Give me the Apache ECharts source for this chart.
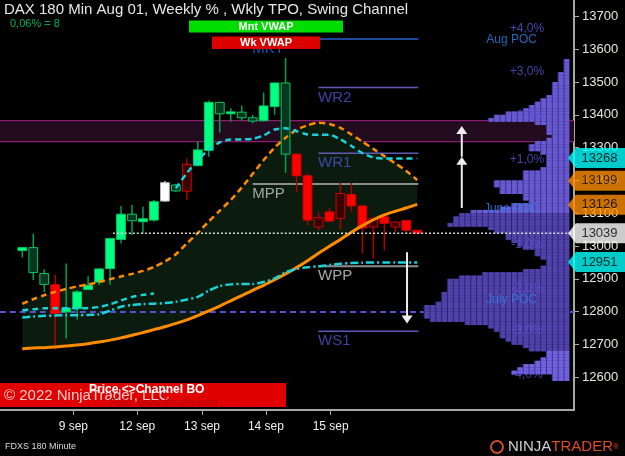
<!DOCTYPE html>
<html><head><meta charset="utf-8">
<script src="https://cdn.jsdelivr.net/npm/echarts@6/dist/echarts.min.js"></script>
<style>html,body{margin:0;padding:0;background:#000;}#c{width:625px;height:456px;}</style>
</head><body><div id="c"></div>
<script>
// ---------- data ----------
const candleOpen  = [12986,12995,12916,12882,12799,12809,12867,12890,12931,13020,13097,13074,13079,13137,13186,13167,13245,13291,13438,13403,13408,13391,13382,13425,13497,13280,13214,13058,13104,13084,13157,13122,13058,13089,13058,13078,13048];
const candleHigh  = [12996,13038,12929,12913,12947,12865,12908,12933,13025,13122,13125,13120,13140,13198,13190,13267,13318,13443,13440,13420,13428,13400,13468,13499,13573,13282,13223,13104,13115,13193,13193,13125,13086,13097,13075,13080,13049];
const candleLow   = [12965,12896,12860,12685,12718,12776,12866,12880,12882,13008,13033,13038,13075,13135,13165,13140,13243,13272,13346,13379,13382,13374,13380,13400,13223,13165,13064,13048,13074,13051,13104,12977,12962,12987,13043,13038,13037];
const candleClose = [12995,12919,12883,12794,12811,12860,12880,12930,13023,13097,13077,13083,13135,13193,13168,13249,13293,13438,13403,13409,13391,13381,13427,13497,13280,13214,13079,13087,13076,13160,13122,13055,13084,13069,13073,13048,13039];
const candleTrend = ['up','up','up','down','up','up','up','up','up','up','up','up','up','flat','up','down','up','up','up','up','up','up','up','up','up','down','down','down','down','down','down','down','down','down','down','down','down'];

const channelUpper = [12824,12838,12850,12860,12869,12877,12883,12891,12899,12907,12915,12924,12936,12953,12975,13008,13040,13075,13108,13140,13178,13220,13262,13300,13330,13354,13368,13376,13372,13360,13340,13318,13296,13274,13252,13229,13201];
const channelLower = [12687,12689,12690,12692,12695,12698,12702,12707,12713,12720,12728,12736,12745,12754,12764,12775,12788,12802,12817,12833,12849,12865,12880,12897,12915,12934,12955,12978,12999,13020,13042,13062,13080,13095,13106,13116,13127];
const wkVwapStart = 14;
const wkVwap = [13176,13222,13262,13294,13316,13325,13325,13327,13337,13355,13359,13350,13340,13339,13339,13325,13305,13283,13270,13267,13267,13267,13267];
const mntBandUpper = [12804,12807,12810,12810,12810,12810,12811,12814,12822,12834,12845,12851,12855];
const mntBandLower = [12782,12785,12787,12788,12789,12789,12790,12792,12803,12815,12820,12823,12824,12826,12830,12837,12845,12864,12878,12883,12884,12884,12890,12901,12920,12930,12935,12938,12942,12946,12948,12949,12950,12950,12950,12950,12950];

const zoneHigh = 13382, zoneLow = 13318;
const julyPocPrice = 12799;
const lastPrice = 13039;
const lastPriceFrom = 8.27;

const levelNames = ['MKT','WR2','WR1','MPP','WPP','WS1'];
const levelPrices = [13631,13483,13283,13189,12938,12740];
const levelStart = [21,27,27,21,27,27];
const levelEnd = 36.1;

const pctLabels = ['+4,0%','+3,0%','+2,0%','+1,0%','-1,0%','-2,0%','-3,0%','-4,0%'];
const pctPrices = [13662,13532,13397,13264,13003,12870,12741,12608];
const pocLabels = ['Aug POC','June POC','July POC'];
const pocPrices = [13628,13113,12835];

const arrowX = [40.06, 40.06, 35.07];
const arrowFrom = [13116, 13272, 12981];
const arrowTo = [13272, 13366, 12764];

const tagValues = [13268, 13199, 13126, 13039, 12951];
const tagColors = ['#00ffff','#ff8c00','#ff8c00','#ffffff','#00ffff'];

const profileTop = 13570, profileStep = 10;
const profileCols = [1,1,1,1,2,2,2,3,3,3,3,4,5,6,7,8,11,13,14,
  6,4,4,4,3,4,6,7,7,5,4,4,4,4,5,8,8,8,
  13,13,12,12,8,8,7,10,12,17,19,20,20,21,14,13,11,11,10,9,8,
  6,6,5,4,4,5,8,15,19,21,21,21,21,22,22,22,23,25,25,25,25,24,
  18,14,13,12,12,11,10,8,7,4,4,5,6,8,9,10,3,3];

const dayTicks = [4.649, 10.48, 16.38, 22.21, 28.11];
const dayLabels = ['9 sep','12 sep','13 sep','14 sep','15 sep'];
const priceTicks = [12600,12700,12800,12900,13000,13100,13200,13300,13400,13500,13600,13700];

// ---------- layout constants ----------
const X_MIN = -2.033, X_MAX = 50.29;
const Y_MIN = 12500, Y_MAX = 13750;
const PROFILE_RIGHT = 49.86, PROFILE_COL = 0.531;
const TAG_X = 52.34, PCT_X = 46.0, POC_X = 44.6;
const FONT = '"Liberation Sans", Arial, sans-serif';

const LEVEL_STYLE = {
  MKT:{line:'#2a5fcf', text:'#2f66d8', w:1.5},
  WR2:{line:'#5c5ab4', text:'#5050c8', w:1.5},
  WR1:{line:'#5c5ab4', text:'#5050c8', w:1.5},
  WS1:{line:'#5c5ab4', text:'#5050c8', w:1.5},
  MPP:{line:'#8c8c8c', text:'#c8c8c8', w:2},
  WPP:{line:'#8c8c8c', text:'#d0d0d0', w:2}
};

function lineSeries(data, color, width, type, z) {
  return {type:'line', data, symbol:'none', smooth:0.25, silent:true,
    lineStyle:{color, width, type}, z, animation:false};
}

const candleData = candleOpen.map((o,i)=>[i, o, candleHigh[i], candleLow[i], candleClose[i]]);

const series = [
  // zone band
  {type:'custom', z:1, silent:true, data:[[X_MIN, zoneHigh, X_MAX, zoneLow]], encode:{x:[0,2], y:[1,3]},
   renderItem(p, api){
     const a = api.coord([api.value(0), api.value(1)]);
     const b = api.coord([api.value(2), api.value(3)]);
     return {type:'group', children:[
       {type:'rect', shape:{x:a[0], y:a[1], width:b[0]-a[0], height:b[1]-a[1]}, style:{fill:'#220b1f'}},
       {type:'line', shape:{x1:a[0], y1:a[1], x2:b[0], y2:a[1]}, style:{stroke:'#8a1f6e', lineWidth:1.2}},
       {type:'line', shape:{x1:a[0], y1:b[1], x2:b[0], y2:b[1]}, style:{stroke:'#8a1f6e', lineWidth:1.2}}
     ]};
   }},
  // channel fill
  {type:'custom', z:2, silent:true, data:[[0, channelUpper[0]]], encode:{x:0, y:1},
   renderItem(p, api){
     const pts = [];
     channelUpper.forEach((v,i)=>pts.push(api.coord([i, v])));
     for (let i = channelLower.length-1; i>=0; i--) pts.push(api.coord([i, channelLower[i]]));
     return {type:'polygon', shape:{points:pts}, style:{fill:'#0b1c0f'}};
   }},
  // July POC dashed line
  lineSeries([[X_MIN, julyPocPrice],[X_MAX, julyPocPrice]], '#5a4fcf', 2, [6,4], 3),
  // level lines
  {type:'custom', z:3, silent:true, data: levelPrices.map((v,k)=>[levelStart[k], v, levelEnd]), encode:{x:[0,2], y:1},
   renderItem(p, api){
     const st = LEVEL_STYLE[levelNames[p.dataIndex]];
     const a = api.coord([api.value(0), api.value(1)]);
     const b = api.coord([api.value(2), api.value(1)]);
     return {type:'line', shape:{x1:a[0], y1:a[1], x2:b[0], y2:b[1]}, style:{stroke:st.line, lineWidth:st.w}};
   }},
  // candles
  {type:'custom', z:4, silent:true, data:candleData, encode:{x:0, y:[1,2,3,4]},
   renderItem(p, api){
     const i = api.value(0), o = api.value(1), h = api.value(2), l = api.value(3), c = api.value(4);
     const t = candleTrend[p.dataIndex];
     const up = c >= o;
     let fill, stroke, wick;
     if (t === 'flat') { fill='#ffffff'; stroke='#b8b8b8'; wick='#d8d8d8'; }
     else if (t === 'up') { wick='#00a050'; stroke='#00c864'; fill = up ? '#00ff80' : '#08361e'; }
     else { wick='#b00000'; stroke='#d00000'; fill = up ? '#3a0000' : '#ff0000'; }
     const pO = api.coord([i,o]), pC = api.coord([i,c]), pH = api.coord([i,h]), pL = api.coord([i,l]);
     const w = api.size([0.8, 0])[0];
     const top = Math.min(pO[1], pC[1]), hh = Math.max(Math.abs(pO[1]-pC[1]), 1.5);
     return {type:'group', children:[
       {type:'line', shape:{x1:pH[0], y1:pH[1], x2:pL[0], y2:pL[1]}, style:{stroke:wick, lineWidth:1.5}},
       {type:'rect', shape:{x:pO[0]-w/2, y:top, width:w, height:hh}, style:{fill, stroke, lineWidth:1}}
     ]};
   }},
  // indicator lines
  lineSeries(channelUpper.map((v,i)=>[i,v]), '#ff8c00', 2.5, [6,4], 5),
  lineSeries(channelLower.map((v,i)=>[i,v]), '#ff8c00', 3, 'solid', 5),
  lineSeries(wkVwap.map((v,i)=>[i+wkVwapStart,v]), '#19d3da', 2.5, [6,4], 5),
  lineSeries(mntBandUpper.map((v,i)=>[i,v]), '#19d3da', 2.5, [6,4], 5),
  lineSeries(mntBandLower.map((v,i)=>[i,v]), '#19d3da', 2.5, [8,3,2,3], 5),
  // profile
  {type:'custom', z:6, silent:true, data: profileCols.map((n,k)=>[PROFILE_RIGHT, profileTop - k*profileStep, n]), encode:{x:0, y:1},
   renderItem(p, api){
     const top = api.value(1), n = api.value(2);
     const a = api.coord([PROFILE_RIGHT, top]);
     const b = api.coord([PROFILE_RIGHT, top - profileStep]);
     const colPx = api.size([PROFILE_COL, 0])[0];
     let col = '#6a5ad0', div = '#3a3090';
     if (top <= 13105 && top > 12680) { col = '#5243aa'; div = '#2c2472'; }
     else if (top <= 12680) { col = '#7262dc'; div = '#3e3498'; }
     const y = a[1], h = b[1]-a[1] + 0.4, xr = a[0];
     const ch = [{type:'rect', shape:{x:xr-n*colPx, y, width:n*colPx, height:h}, style:{fill:div}}];
     for (let j=0;j<n;j++) ch.push({type:'rect', shape:{x:xr-(j+1)*colPx+1, y, width:colPx-1, height:h}, style:{fill:col}});
     return {type:'group', children:ch};
   }},
  // last price dotted
  lineSeries([[lastPriceFrom, lastPrice],[X_MAX, lastPrice]], '#d8d8d8', 1.5, [2,2], 7),
  // arrows
  {type:'custom', z:8, silent:true, data: arrowX.map((x,k)=>[x, arrowFrom[k], arrowTo[k]]), encode:{x:0, y:[1,2]},
   renderItem(p, api){
     const x = api.value(0);
     const a = api.coord([x, api.value(1)]), b = api.coord([x, api.value(2)]);
     const d = b[1] > a[1] ? 1 : -1;
     return {type:'group', children:[
       {type:'line', shape:{x1:a[0], y1:a[1], x2:b[0], y2:b[1]-d*6}, style:{stroke:'#eeeeee', lineWidth:2}},
       {type:'polygon', shape:{points:[[b[0], b[1]], [b[0]-5.5, b[1]-d*8], [b[0]+5.5, b[1]-d*8]]}, style:{fill:'#eeeeee'}}
     ]};
   }},
  // level labels
  {type:'scatter', z:9, silent:true, symbolSize:1, itemStyle:{color:'rgba(0,0,0,0)'},
   data: levelNames.map((n,k)=>({name:n, value:[levelStart[k], levelPrices[k]],
     label:{color:LEVEL_STYLE[n].text}})),
   label:{show:true, position:'right', distance:0, offset:[-1,10], formatter:'{b}', fontSize:15, fontFamily:FONT}},
  // percent labels
  {type:'scatter', z:9, silent:true, symbolSize:1, itemStyle:{color:'rgba(0,0,0,0)'},
   data: pctLabels.map((n,k)=>({name:n, value:[PCT_X, pctPrices[k]]})),
   label:{show:true, position:'inside', formatter:'{b}', fontSize:12, color:'#5e54d8', fontFamily:FONT}},
  {type:'scatter', z:9, silent:true, symbolSize:1, itemStyle:{color:'rgba(0,0,0,0)'},
   data: pocLabels.map((n,k)=>({name:n, value:[POC_X, pocPrices[k]]})),
   label:{show:true, position:'inside', formatter:'{b}', fontSize:12, color:'#2f80e6', fontFamily:FONT}},
  // price tags
  {type:'scatter', z:20, silent:true, clip:false,
   symbol:'path://M0,10 L8,0 L58,0 L58,20 L8,20 Z', symbolSize:[57,20],
   data: tagValues.map((v,k)=>({value:[TAG_X, v], itemStyle:{color:tagColors[k]}})),
   label:{show:true, position:'inside', offset:[3,0], formatter:p=>String(p.value[1]), color:'#000', fontSize:13, fontFamily:FONT}}
];

const option = {
  backgroundColor:'#000',
  animation:false,
  grid:{left:0, right:51, top:0, bottom:46},
  xAxis:{type:'value', min:X_MIN, max:X_MAX,
    axisLine:{show:true, onZero:false, lineStyle:{color:'#a8a8a0', width:2}},
    axisTick:{show:true, customValues:dayTicks, length:5, lineStyle:{color:'#a8a8a0'}},
    axisLabel:{customValues:dayTicks, color:'#f0f0f0', fontSize:12, margin:11, fontFamily:FONT,
      formatter:v=>{let b=0;dayTicks.forEach((t,k)=>{if(Math.abs(t-v)<Math.abs(dayTicks[b]-v))b=k;});return dayLabels[b];}},
    splitLine:{show:false}},
  yAxis:{type:'value', position:'right', min:Y_MIN, max:Y_MAX,
    axisLine:{show:true, onZero:false, lineStyle:{color:'#a8a8a0', width:2}},
    axisTick:{show:true, customValues:priceTicks, length:5, lineStyle:{color:'#a8a8a0'}},
    axisLabel:{customValues:priceTicks, color:'#e6e6d8', fontSize:13, margin:8, fontFamily:FONT,
      formatter:v=>String(Math.round(v))},
    splitLine:{show:false}},
  series,
  graphic:[
    {type:'text', x:4, y:2, z:100, style:{text:'DAX 180 Min Aug 01, Weekly % , Wkly TPO, Swing Channel', fill:'#e6e6e6', font:'15px '+FONT}},
    {type:'text', x:10, y:18, z:100, style:{text:'0,06% = 8', fill:'#00b058', font:'11px '+FONT}},
    {type:'rect', z:100, shape:{x:189, y:20.5, width:154, height:12}, style:{fill:'#00dd00'}},
    {type:'text', x:266, y:26.5, z:101, style:{text:'Mnt VWAP', fill:'#ffffff', font:'bold 11px '+FONT, textAlign:'center', textVerticalAlign:'middle'}},
    {type:'rect', z:100, shape:{x:212, y:36.5, width:108, height:12.5}, style:{fill:'#dd0000'}},
    {type:'text', x:266, y:43, z:101, style:{text:'Wk VWAP', fill:'#ffffff', font:'bold 11px '+FONT, textAlign:'center', textVerticalAlign:'middle'}},
    {type:'rect', z:100, shape:{x:0, y:383, width:286, height:24}, style:{fill:'#e00000'}},
    {type:'text', x:4, y:396, z:101, style:{text:'\u00a9 2022 NinjaTrader, LLC', fill:'rgba(255,225,225,0.9)', font:'15px '+FONT, textVerticalAlign:'middle'}},
    {type:'text', x:89, y:390, z:102, style:{text:'Price <>Channel BO', fill:'#ffffff', font:'bold 12px '+FONT, textVerticalAlign:'middle'}},
    {type:'text', x:110, y:403, z:101, style:{text:'Falo  www.fin-alo.com', fill:'#b00000', font:'11px '+FONT, textVerticalAlign:'middle'}},
    {type:'text', x:5, y:447, z:100, style:{text:'FDXS 180 Minute', fill:'#dcdcdc', font:'9px '+FONT, textVerticalAlign:'middle'}},
    {type:'circle', z:100, shape:{cx:497, cy:447, r:6}, style:{fill:'none', stroke:'#c8502a', lineWidth:2}},
    {type:'text', x:508, y:447, z:100, style:{text:'{a|NINJA}{b|TRADER}{c|\u00ae}', textVerticalAlign:'middle',
      rich:{a:{fill:'#d0d0d0', font:'15px '+FONT}, b:{fill:'#e04a20', font:'15px '+FONT}, c:{fill:'#e04a20', font:'8px '+FONT}}}}
  ]
};

const chart = echarts.init(document.getElementById('c'));
chart.setOption(option);
</script>
</body></html>
